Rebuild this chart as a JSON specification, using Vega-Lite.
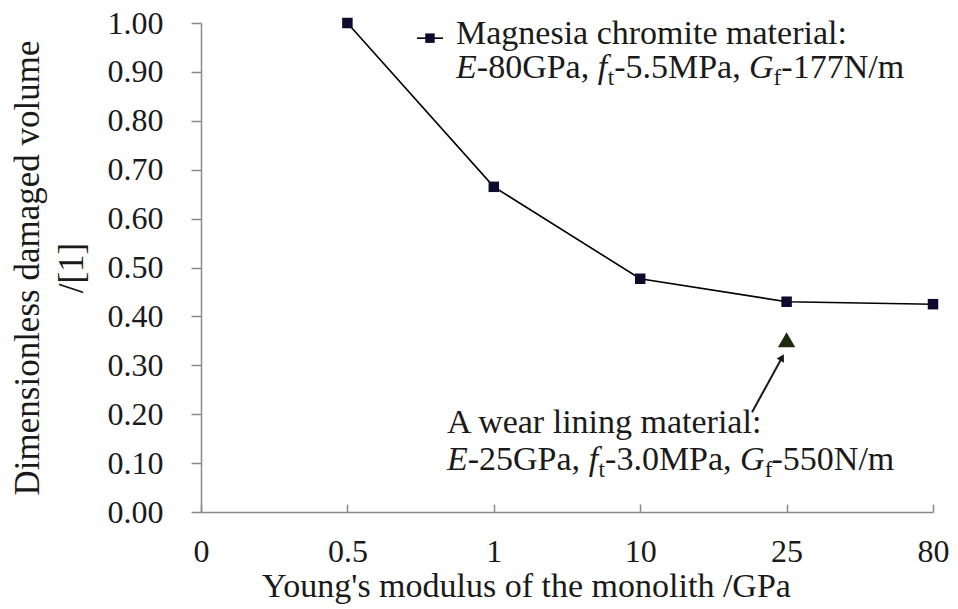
{
  "$schema": "https://vega.github.io/schema/vega-lite/v6.json",
  "width": 732,
  "height": 489,
  "autosize": "none",
  "padding": {"left": 201, "top": 23, "right": 25, "bottom": 97},
  "background": "white",
  "config": {
    "font": "Liberation Serif",
    "view": {"stroke": null},
    "axis": {"grid": false, "domainColor": "#8a8a8a", "tickColor": "#8a8a8a", "domainWidth": 1.5, "tickWidth": 1.5, "labelColor": "#1a1a1a", "titleColor": "#1a1a1a", "labelFont": "Liberation Serif", "titleFont": "Liberation Serif", "labelFontSize": 32, "titleFontSize": 34, "titleFontWeight": "normal"}
  },
  "datasets": {
    "main": [
      {"E": "0.5", "v": 1.0},
      {"E": "1", "v": 0.665},
      {"E": "10", "v": 0.477},
      {"E": "25", "v": 0.43},
      {"E": "80", "v": 0.425}
    ],
    "wear": [{"E": "25", "v": 0.352}],
    "normal": [
      {"tx": 1.742, "ty": 0.957, "t": "Magnesia chromite material:"},
      {"tx": 1.884, "ty": 0.887, "t": "-80GPa,"},
      {"tx": 2.822, "ty": 0.887, "t": "-5.5MPa,"},
      {"tx": 3.964, "ty": 0.887, "t": "-177N/m"},
      {"tx": 1.68, "ty": 0.161, "t": "A wear lining material:"},
      {"tx": 1.822, "ty": 0.085, "t": "-25GPa,"},
      {"tx": 2.76, "ty": 0.085, "t": "-3.0MPa,"},
      {"tx": 3.897, "ty": 0.085, "t": "-550N/m"}
    ],
    "italic": [
      {"tx": 1.742, "ty": 0.887, "t": "E"},
      {"tx": 2.71, "ty": 0.887, "t": "f"},
      {"tx": 3.744, "ty": 0.887, "t": "G"},
      {"tx": 1.68, "ty": 0.085, "t": "E"},
      {"tx": 2.648, "ty": 0.085, "t": "f"},
      {"tx": 3.682, "ty": 0.085, "t": "G"}
    ],
    "sub": [
      {"tx": 2.778, "ty": 0.873, "t": "t"},
      {"tx": 3.911, "ty": 0.873, "t": "f"},
      {"tx": 2.716, "ty": 0.071, "t": "t"},
      {"tx": 3.85, "ty": 0.071, "t": "f"}
    ],
    "legline": [{"lx": 1.475, "ly": 0.969}, {"lx": 1.653, "ly": 0.969}],
    "legpt": [{"lx": 1.564, "ly": 0.969}],
    "arrow": [{"ax": 3.764, "ay": 0.204, "ax2": 3.969, "ay2": 0.316}]
  },
  "resolve": {"scale": {"x": "independent"}},
  "layer": [
    {
      "data": {"name": "main"},
      "mark": {"type": "line", "color": "#000000", "strokeWidth": 1.6},
      "encoding": {
        "x": {"field": "E", "type": "ordinal", "scale": {"type": "point", "domain": ["0", "0.5", "1", "10", "25", "80"], "padding": 0},
          "axis": {"title": "Young's modulus of the monolith /GPa", "labelAngle": 0, "tickSize": -8, "labelPadding": 32, "titlePadding": 2, "titleX": 325}},
        "y": {"field": "v", "type": "quantitative", "scale": {"domain": [0, 1]},
          "axis": {"title": ["Dimensionless damaged volume", "/[1]"], "values": [0, 0.1, 0.2, 0.3, 0.4, 0.5, 0.6, 0.7, 0.8, 0.9, 1.0], "format": ".2f", "tickSize": 10, "labelPadding": 28, "titlePadding": 18, "titleFontSize": 35, "titleLineHeight": 44}}
      }
    },
    {
      "data": {"name": "main"},
      "mark": {"type": "point", "shape": "square", "filled": true, "size": 110, "color": "#0b0b2e", "opacity": 1},
      "encoding": {
        "x": {"field": "E", "type": "ordinal", "scale": {"type": "point", "domain": ["0", "0.5", "1", "10", "25", "80"], "padding": 0}, "axis": null},
        "y": {"field": "v", "type": "quantitative"}
      }
    },
    {
      "data": {"name": "wear"},
      "mark": {"type": "point", "shape": "triangle-up", "filled": true, "size": 300, "color": "#1c2a0e", "opacity": 1},
      "encoding": {
        "x": {"field": "E", "type": "ordinal", "scale": {"type": "point", "domain": ["0", "0.5", "1", "10", "25", "80"], "padding": 0}, "axis": null},
        "y": {"field": "v", "type": "quantitative"}
      }
    },
    {
      "data": {"name": "legline"},
      "mark": {"type": "line", "color": "#000000", "strokeWidth": 1.6},
      "encoding": {
        "x": {"field": "lx", "type": "quantitative", "scale": {"domain": [0, 5]}, "axis": null},
        "y": {"field": "ly", "type": "quantitative"}
      }
    },
    {
      "data": {"name": "legpt"},
      "mark": {"type": "point", "shape": "square", "filled": true, "size": 90, "color": "#0b0b2e", "opacity": 1},
      "encoding": {
        "x": {"field": "lx", "type": "quantitative", "scale": {"domain": [0, 5]}, "axis": null},
        "y": {"field": "ly", "type": "quantitative"}
      }
    },
    {
      "data": {"name": "arrow"},
      "mark": {"type": "rule", "color": "#1a1a1a", "strokeWidth": 2},
      "encoding": {
        "x": {"field": "ax", "type": "quantitative", "scale": {"domain": [0, 5]}, "axis": null},
        "y": {"field": "ay", "type": "quantitative"},
        "x2": {"field": "ax2"},
        "y2": {"field": "ay2"}
      }
    },
    {
      "data": {"name": "arrow"},
      "mark": {"type": "point", "shape": "triangle-up", "filled": true, "size": 70, "angle": 29, "color": "#1a1a1a", "opacity": 1},
      "encoding": {
        "x": {"field": "ax2", "type": "quantitative", "scale": {"domain": [0, 5]}, "axis": null},
        "y": {"field": "ay2", "type": "quantitative"}
      }
    },
    {
      "data": {"name": "normal"},
      "mark": {"type": "text", "align": "left", "baseline": "alphabetic", "fontSize": 34, "font": "Liberation Serif", "color": "#1a1a1a"},
      "encoding": {
        "x": {"field": "tx", "type": "quantitative", "scale": {"domain": [0, 5]}, "axis": null},
        "y": {"field": "ty", "type": "quantitative"},
        "text": {"field": "t"}
      }
    },
    {
      "data": {"name": "italic"},
      "mark": {"type": "text", "align": "left", "baseline": "alphabetic", "fontSize": 34, "fontStyle": "italic", "font": "Liberation Serif", "color": "#1a1a1a"},
      "encoding": {
        "x": {"field": "tx", "type": "quantitative", "scale": {"domain": [0, 5]}, "axis": null},
        "y": {"field": "ty", "type": "quantitative"},
        "text": {"field": "t"}
      }
    },
    {
      "data": {"name": "sub"},
      "mark": {"type": "text", "align": "left", "baseline": "alphabetic", "fontSize": 23, "font": "Liberation Serif", "color": "#1a1a1a"},
      "encoding": {
        "x": {"field": "tx", "type": "quantitative", "scale": {"domain": [0, 5]}, "axis": null},
        "y": {"field": "ty", "type": "quantitative"},
        "text": {"field": "t"}
      }
    }
  ]
}
